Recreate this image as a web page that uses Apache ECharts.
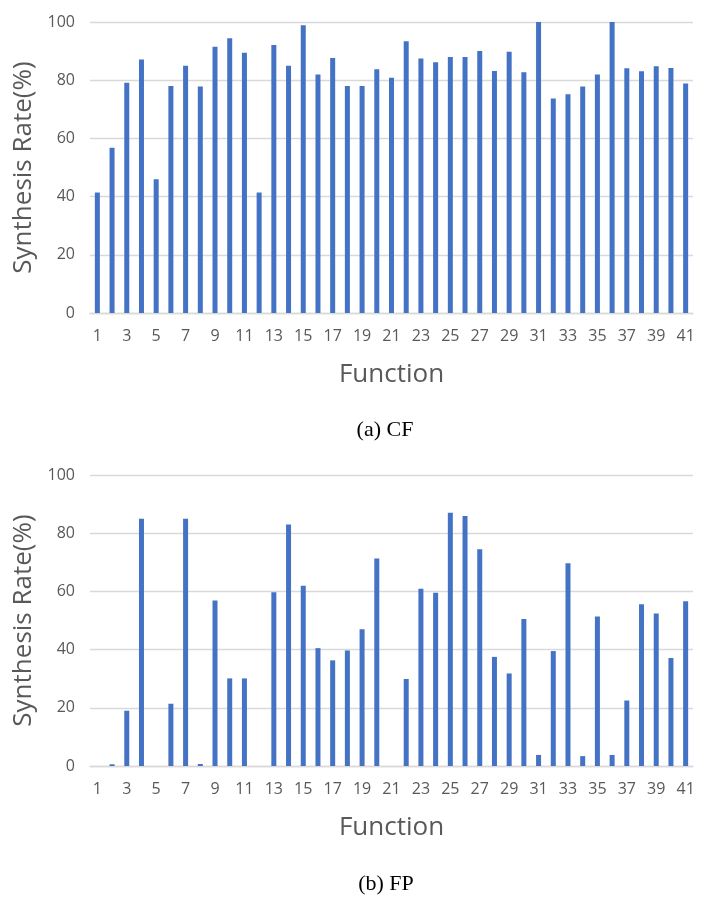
<!DOCTYPE html>
<html>
<head>
<meta charset="utf-8">
<script src="https://cdn.jsdelivr.net/npm/echarts@6/dist/echarts.min.js"></script>
<style>
  html, body { margin: 0; padding: 0; background: #fff; }
  #chart { width: 706px; height: 903px; }
</style>
</head>
<body>
<div id="chart"></div>
<script>
// 函数编号 1..41
const functions = ['1','2','3','4','5','6','7','8','9','10','11','12','13','14','15','16','17','18','19','20',
  '21','22','23','24','25','26','27','28','29','30','31','32','33','34','35','36','37','38','39','40','41'];
// (a) CF 合成率
const cfRate = [41.4, 56.8, 79.1, 87.1, 46.0, 78.0, 85.0, 77.8, 91.5, 94.4,
  89.4, 41.4, 92.1, 85.0, 98.9, 82.0, 87.6, 78.0, 78.0, 83.8,
  80.8, 93.4, 87.5, 86.2, 88.0, 88.0, 90.0, 83.2, 89.8, 82.7,
  100, 73.7, 75.2, 77.8, 82.0, 100, 84.1, 83.1, 84.8, 84.2, 78.9];
// (b) FP 合成率
const fpRate = [0, 0.6, 19.0, 85.0, 0, 21.4, 85.0, 0.7, 56.9, 30.1,
  30.1, 0, 59.7, 83.0, 61.9, 40.5, 36.3, 39.7, 47.0, 71.3,
  0, 29.9, 60.9, 59.5, 87.0, 85.9, 74.5, 37.5, 31.8, 50.5,
  3.8, 39.5, 69.7, 3.4, 51.4, 3.8, 22.5, 55.6, 52.4, 37.1, 56.6];
const captions = ['(a) CF', '(b) FP'];

const GRAY = '#595959', LINE = '#d9d9d9', BAR = '#4472c4';
const SANS = '"Open Sans", sans-serif';
const SERIF = { fontFamily: '"Liberation Serif", serif', fontWeight: 'normal', fontSize: 22, color: '#000' };

function xAx(gi) {
  return {
    type: 'category', gridIndex: gi, data: functions,
    name: 'Function', nameLocation: 'middle', nameGap: 49,
    nameTextStyle: { color: GRAY, fontSize: 26, fontFamily: SANS },
    axisTick: { show: false },
    axisLine: { lineStyle: { color: LINE, width: 1.3 } },
    axisLabel: { interval: 1, color: GRAY, fontSize: 16, fontFamily: SANS, margin: 15 }
  };
}
function yAx(gi) {
  return {
    type: 'value', gridIndex: gi, min: 0, max: 100, interval: 20,
    name: 'Synthesis Rate(%)', nameLocation: 'middle', nameGap: 51,
    nameTextStyle: { color: GRAY, fontSize: 26, fontFamily: SANS },
    axisLine: { show: false }, axisTick: { show: false },
    axisLabel: { color: GRAY, fontSize: 16, fontFamily: SANS, margin: 15 },
    splitLine: { lineStyle: { color: LINE, width: 1.3 } }
  };
}

const c = echarts.init(document.getElementById('chart'));
c.setOption({
  animation: false,
  backgroundColor: '#fff',
  title: [
    { text: captions[0], left: 380, textAlign: 'center', top: 414, textStyle: SERIF },
    { text: captions[1], left: 381, textAlign: 'center', top: 868, textStyle: SERIF }
  ],
  grid: [
    { left: 90, right: 13, top: 22, height: 291 },
    { left: 90, right: 13, top: 475, height: 291 }
  ],
  xAxis: [xAx(0), xAx(1)],
  yAxis: [yAx(0), yAx(1)],
  series: [
    { type: 'bar', xAxisIndex: 0, yAxisIndex: 0, data: cfRate, barWidth: 5, itemStyle: { color: BAR } },
    { type: 'bar', xAxisIndex: 1, yAxisIndex: 1, data: fpRate, barWidth: 5, itemStyle: { color: BAR } }
  ]
});
</script>
</body>
</html>
